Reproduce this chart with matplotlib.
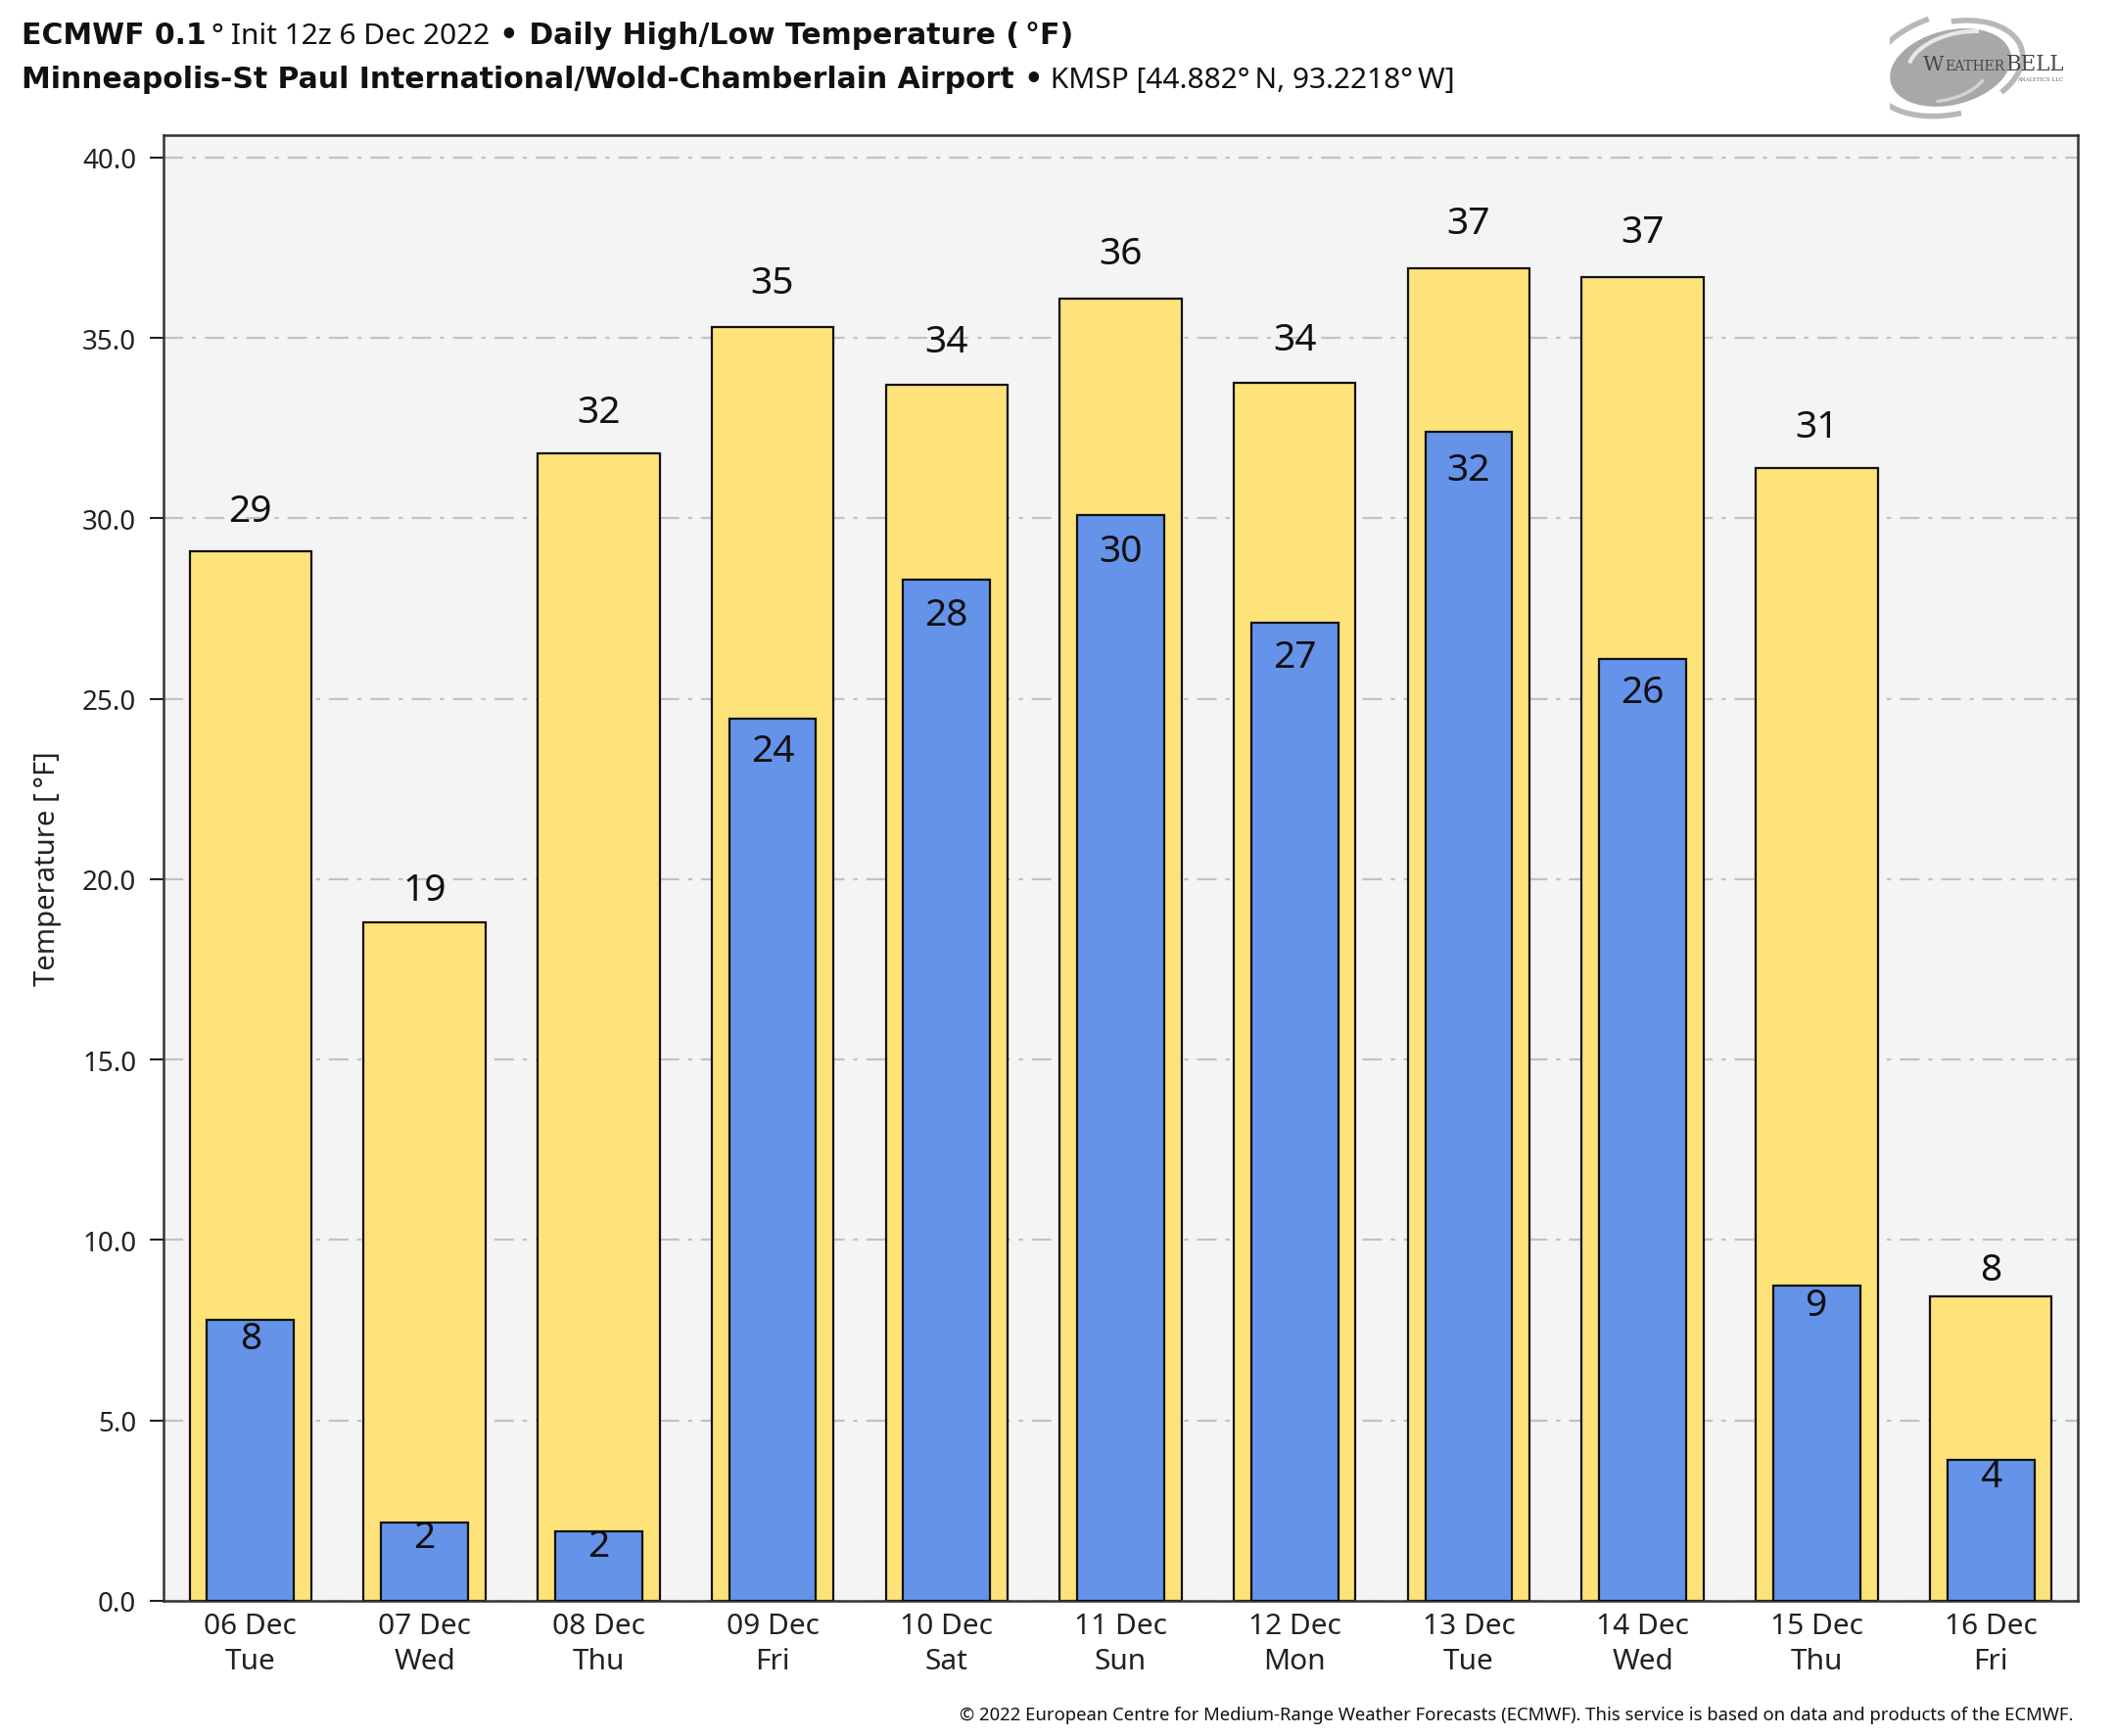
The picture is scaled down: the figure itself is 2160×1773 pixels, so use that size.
import matplotlib
matplotlib.use("Agg")
import matplotlib.pyplot as plt
from matplotlib.patches import Ellipse, Arc
from matplotlib.ticker import FormatStrFormatter
import numpy as np

# ---------------- data ----------------
dates = ["06 Dec", "07 Dec", "08 Dec", "09 Dec", "10 Dec", "11 Dec",
         "12 Dec", "13 Dec", "14 Dec", "15 Dec", "16 Dec"]
weekdays = ["Tue", "Wed", "Thu", "Fri", "Sat", "Sun",
            "Mon", "Tue", "Wed", "Thu", "Fri"]
high_f = [29.1, 18.8, 31.8, 35.3, 33.7, 36.1, 33.75, 36.93, 36.7, 31.4, 8.45]
low_f = [7.8, 2.17, 1.94, 24.45, 28.3, 30.1, 27.1, 32.4, 26.1, 8.75, 3.9]
y_ticks = [0, 5, 10, 15, 20, 25, 30, 35, 40]

# ---------------- style ----------------
W, H = 2160, 1774
DPI = 100
FONT = "Noto Sans"
BOLD_FAM = "DejaVu Sans"
YELLOW = "#fee27a"
BLUE = "#6593ea"
plt.rcParams["font.family"] = [FONT, "DejaVu Sans"]

fig = plt.figure(figsize=(W / DPI, H / DPI), dpi=DPI)
fig.patch.set_facecolor("white")

ax_l, ax_r, ax_t, ax_b = 167, 2122, 139, 1636
ax = fig.add_axes([ax_l / W, 1 - ax_b / H, (ax_r - ax_l) / W, (ax_b - ax_t) / H])
ax.set_facecolor("#f4f4f4")

x = np.arange(len(dates))
ax.bar(x, high_f, width=0.7, color=YELLOW, edgecolor="#111111", linewidth=1.6, zorder=2)
ax.bar(x, low_f, width=0.5, color=BLUE, edgecolor="#111111", linewidth=1.6, zorder=3)

ax.set_xlim(-0.5, len(dates) - 0.5)
ax.set_ylim(0, max(high_f) * 1.1)
ax.set_yticks(y_ticks)
ax.yaxis.set_major_formatter(FormatStrFormatter("%.1f"))
ax.set_xticks(x)
ax.set_xticklabels([f"{d}\n{w}" for d, w in zip(dates, weekdays)], linespacing=1.3)

ax.grid(axis="y", color="#c2c2c2", linestyle=(0, (9, 4, 2, 4)), linewidth=1.6)
ax.set_axisbelow(True)
ax.tick_params(axis="x", length=0, pad=8, labelsize=21.5, colors="#222222")
ax.tick_params(axis="y", length=10, width=1.5, labelsize=20, pad=10, colors="#222222")
for s in ax.spines.values():
    s.set_color("#333333")
    s.set_linewidth(1.8)

ax.set_ylabel("Temperature [\u2009°F]", fontsize=21, color="#222222")
ax.yaxis.set_label_coords((63 - ax_l) / (ax_r - ax_l), 0.5)

# value labels
for xi, v in zip(x, high_f):
    ax.text(xi, v * 1.019 + 0.55, f"{round(v):d}", ha="center", va="center",
            fontsize=28, color="#111111", zorder=5)
for xi, v in zip(x, low_f):
    ax.text(xi, v * 0.979 - 0.374, f"{round(v):d}", ha="center", va="center",
            fontsize=28, color="#111111", zorder=5)

# ---------------- title (mixed weights) ----------------
fig.canvas.draw()
renderer = fig.canvas.get_renderer()


def draw_runs(runs, x0, baseline_from_top, size):
    xp = x0
    for s, weight in runs:
        fam = [BOLD_FAM] if weight == "bold" else [FONT, "DejaVu Sans"]
        t = fig.text(xp / W, 1 - baseline_from_top / H, s, fontsize=size,
                     fontweight=weight, family=fam, ha="left", va="baseline",
                     color="#111111")
        bb = t.get_window_extent(renderer)
        xp = bb.x1
    return xp


draw_runs([("ECMWF 0.1", "bold"), ("\u2009°", "normal"), (" Init 12z 6 Dec 2022", "normal"),
           (" •", "bold"), (" Daily High/Low Temperature (\u2009°F)", "bold")], 22, 45, 21.5)
draw_runs([("Minneapolis-St Paul International/Wold-Chamberlain Airport", "bold"),
           (" •", "bold"), (" KMSP [44.882°\u2009N, 93.2218°\u2009W]", "normal")], 22, 90, 21.5)

fig.text(2118 / W, 1 - 1752 / H,
         "© 2022 European Centre for Medium-Range Weather Forecasts (ECMWF). "
         "This service is based on data and products of the ECMWF.",
         ha="right", va="center", fontsize=13.3, color="#111111")

# ---------------- logo ----------------
lx0, lx1, ly0, ly1 = 1930, 2140, 10, 125
lax = fig.add_axes([lx0 / W, 1 - ly1 / H, (lx1 - lx0) / W, (ly1 - ly0) / H])
lax.set_xlim(lx0, lx1)
lax.set_ylim(ly1, ly0)
lax.axis("off")
lax.add_patch(Ellipse((1992, 70), 126, 76, angle=-14, color="#a8a8a8", lw=0))
lax.add_patch(Arc((1995, 66), 172, 102, angle=-14, theta1=95, theta2=255,
                  color="#b8b8b8", lw=4))
lax.add_patch(Arc((1992, 70), 150, 92, angle=-14, theta1=-75, theta2=40,
                  color="#b8b8b8", lw=4))
lax.add_patch(Arc((2000, 62), 104, 54, angle=-14, theta1=190, theta2=320,
                  color="#e8e8e8", lw=3))
lax.add_patch(Arc((1985, 78), 92, 50, angle=-14, theta1=20, theta2=120,
                  color="#d2d2d2", lw=2.5))
fig.canvas.draw()
xp = 1964
for s, fs in [("W", 15), ("EATHER", 10), ("BELL", 15.5)]:
    t = lax.text(xp, 72, s, fontsize=fs, family="DejaVu Serif", color="#474747",
                 va="baseline", ha="left")
    bb = t.get_window_extent(renderer)
    xp = xp + bb.width + 1
lax.text(xp - 2, 83, "ANALYTICS LLC", fontsize=4, family="DejaVu Serif", color="#666666",
         ha="right", va="baseline")

fig.savefig("out.png", dpi=DPI)
